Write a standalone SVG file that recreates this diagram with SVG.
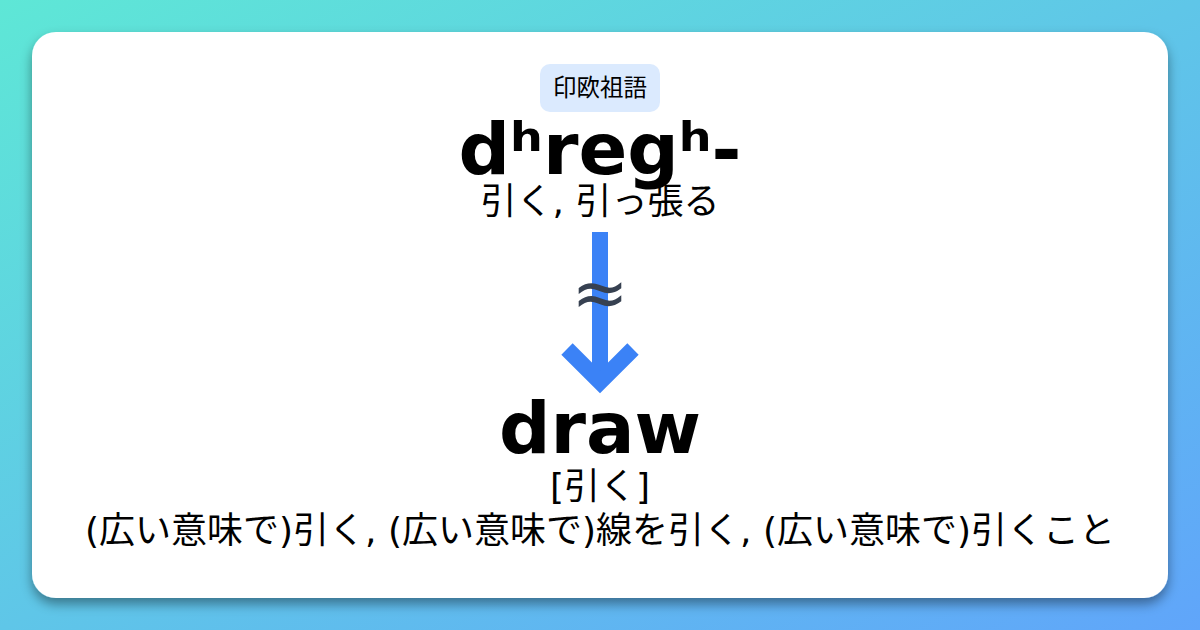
<svg xmlns="http://www.w3.org/2000/svg" width="1200" height="630" viewBox="0 0 1200 630">
<defs>
<linearGradient id="bg" x1="0" y1="0" x2="1" y2="1">
<stop offset="0" stop-color="#5ee7d6"/>
<stop offset="1" stop-color="#60a5fa"/>
</linearGradient>
<filter id="sh" x="-10%" y="-10%" width="120%" height="130%">
<feDropShadow dx="0" dy="6" stdDeviation="6" flood-color="#000" flood-opacity="0.4"/>
</filter>
<style>
.t{font-family:"DejaVu Sans","Noto Sans CJK JP",sans-serif;text-anchor:middle;fill:#000}
.b{font-weight:bold}
</style>
</defs>
<rect width="1200" height="630" fill="url(#bg)"/>
<rect x="32" y="32" width="1136" height="566" rx="24" fill="#fff" filter="url(#sh)"/>
<g id="tag">
<rect x="540" y="64" width="120" height="48" rx="10" fill="#dbeafe"/>
<text class="t" x="600" y="96" font-size="23.5">印欧祖語</text>
</g>
<g id="source">
<text class="t b" x="600" y="174" font-size="72">dʰregʰ-</text>
<text class="t" x="600" y="214" font-size="36">引く, 引っ張る</text>
</g>
<g id="connectors">
<line x1="600" y1="232" x2="600" y2="385" stroke="#3b82f6" stroke-width="16"/>
<polyline points="567,349 600,382 633,349" fill="none" stroke="#3b82f6" stroke-width="16"/>
<text class="t" x="600" y="316" font-size="68" style="fill:#374151">≈</text>
</g>
<g id="target">
<text class="t b" x="600" y="453" font-size="72">draw</text>
<text class="t" x="600" y="499" font-size="36">[引く]</text>
<text class="t" x="600" y="543" font-size="36">(広い意味で)引く, (広い意味で)線を引く, (広い意味で)引くこと</text>
</g>
</svg>
